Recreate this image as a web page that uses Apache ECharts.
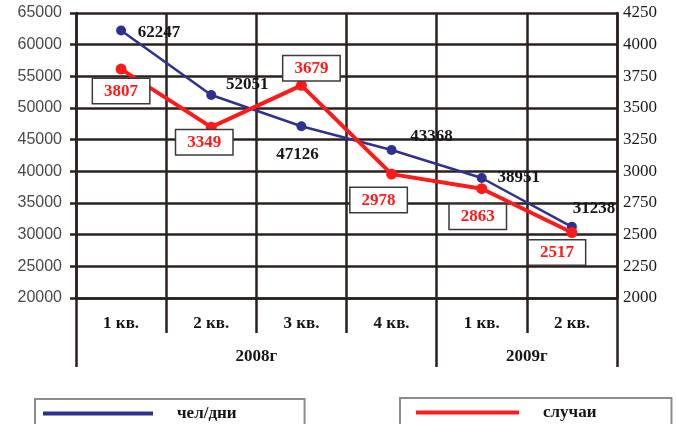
<!DOCTYPE html>
<html>
<head>
<meta charset="utf-8">
<script src="https://cdn.jsdelivr.net/npm/echarts@6/dist/echarts.min.js"></script>
<style>
  html, body { margin: 0; padding: 0; background: #ffffff; }
  #chart { width: 676px; height: 424px; }
</style>
</head>
<body>
<div id="chart"></div>
<script>
// Quarterly figures, 2008–2009
const quarters = ['1 кв.', '2 кв.', '3 кв.', '4 кв.', '1 кв.', '2 кв.'];
const years = ['2008г', '2009г'];
const quartersPerYear = [4, 2];
const personDays = [62247, 52051, 47126, 43368, 38951, 31238];   // чел/дни
const cases = [3807, 3349, 3679, 2978, 2863, 2517];               // случаи
const leftTicks = [20000, 25000, 30000, 35000, 40000, 45000, 50000, 55000, 60000, 65000];
const rightTicks = [2000, 2250, 2500, 2750, 3000, 3250, 3500, 3750, 4000, 4250];

// Label placement around each point (px)
const personDaysLabelShift = [[38, 2], [36, -10], [-4, 28], [40, -13], [37, 0], [22, -18]];
const casesLabelShift = [[0, 22], [-7, 15], [10, -17], [-13, 26], [-4, 28], [-15, 20]];

const GRID_COLOR = '#2b211e';
const BLUE = '#2f3190';
const RED = '#ff1a1a';
const SERIF = "'Liberation Serif', 'DejaVu Serif', serif";

// Year group boundaries and centres on a 0..N quarter scale
const yearBounds = [0];
quartersPerYear.forEach(n => yearBounds.push(yearBounds[yearBounds.length - 1] + n));
const yearCenters = quartersPerYear.map((n, i) => yearBounds[i] + n / 2);

const lineStyleAxis = { color: GRID_COLOR, width: 2.5 };
const plain = v => String(v);

const chart = echarts.init(document.getElementById('chart'), null, { renderer: 'canvas' });

chart.setOption({
  animation: false,
  backgroundColor: '#ffffff',
  grid: { left: 76, right: 59, top: 13, bottom: 126, containLabel: false },
  legend: [
    {
      data: ['чел/дни'],
      left: 35, top: 399,
      icon: 'rect', itemWidth: 110, itemHeight: 4,
      padding: [6, 68, 20, 8],
      borderColor: '#8c8c8c', borderWidth: 2,
      selectedMode: false,
      textStyle: { fontFamily: SERIF, fontWeight: 'bold', fontSize: 17, color: '#151515', padding: [0, 0, 0, 19] }
    },
    {
      data: ['случаи'],
      left: 400, top: 398,
      icon: 'rect', itemWidth: 103, itemHeight: 4,
      padding: [6, 75, 20, 16],
      borderColor: '#8c8c8c', borderWidth: 2,
      selectedMode: false,
      textStyle: { fontFamily: SERIF, fontWeight: 'bold', fontSize: 17, color: '#151515', padding: [0, 0, 0, 19] }
    }
  ],
  xAxis: [
    {
      type: 'category',
      data: quarters,
      boundaryGap: true,
      position: 'bottom',
      axisLine: { show: true, lineStyle: lineStyleAxis },
      axisTick: { show: true, interval: 0, length: 35, lineStyle: lineStyleAxis },
      splitLine: { show: true, interval: 0, lineStyle: lineStyleAxis },
      axisLabel: {
        interval: 0, margin: 17,
        fontFamily: SERIF, fontWeight: 'bold', fontSize: 17, color: '#151515'
      }
    },
    {
      type: 'value',
      position: 'bottom',
      offset: 35,
      min: yearBounds[0],
      max: yearBounds[yearBounds.length - 1],
      axisLine: { show: false },
      splitLine: { show: false },
      axisTick: { show: true, customValues: yearBounds, length: 34, lineStyle: lineStyleAxis },
      axisLabel: {
        customValues: yearCenters,
        margin: 15,
        formatter: v => years[yearCenters.indexOf(v)] || '',
        fontFamily: SERIF, fontWeight: 'bold', fontSize: 17, color: '#151515'
      }
    }
  ],
  yAxis: [
    {
      type: 'value',
      position: 'left',
      min: leftTicks[0],
      max: leftTicks[leftTicks.length - 1],
      interval: leftTicks[1] - leftTicks[0],
      axisLine: { show: true, lineStyle: lineStyleAxis },
      axisTick: { show: true, length: 6, lineStyle: lineStyleAxis },
      splitLine: { show: true, lineStyle: lineStyleAxis },
      axisLabel: {
        margin: 14,
        formatter: plain,
        fontFamily: "'Liberation Sans', Arial, sans-serif", fontSize: 16, color: '#4a4a4a'
      }
    },
    {
      type: 'value',
      position: 'right',
      min: rightTicks[0],
      max: rightTicks[rightTicks.length - 1],
      interval: rightTicks[1] - rightTicks[0],
      axisLine: { show: true, lineStyle: lineStyleAxis },
      axisTick: { show: false },
      splitLine: { show: false },
      axisLabel: {
        margin: 6,
        formatter: plain,
        fontFamily: SERIF, fontSize: 17, color: '#1a1a1a'
      }
    }
  ],
  series: [
    {
      name: 'чел/дни',
      type: 'line',
      xAxisIndex: 0,
      yAxisIndex: 0,
      symbol: 'circle',
      symbolSize: 10,
      color: BLUE,
      lineStyle: { color: BLUE, width: 2.5 },
      itemStyle: { color: BLUE },
      z: 3,
      data: personDays.map((v, i) => ({
        value: v,
        label: { offset: personDaysLabelShift[i] }
      })),
      label: {
        show: true,
        position: 'inside',
        fontFamily: SERIF, fontWeight: 'bold', fontSize: 17, color: '#151515'
      }
    },
    {
      name: 'случаи',
      type: 'line',
      xAxisIndex: 0,
      yAxisIndex: 1,
      symbol: 'circle',
      symbolSize: 11,
      color: RED,
      lineStyle: { color: RED, width: 4 },
      itemStyle: { color: RED },
      z: 4,
      data: cases.map((v, i) => ({
        value: v,
        label: { offset: casesLabelShift[i] }
      })),
      label: {
        show: true,
        position: 'inside',
        fontFamily: SERIF, fontWeight: 'bold', fontSize: 17, color: RED,
        backgroundColor: '#ffffff',
        borderColor: '#3a3a3a', borderWidth: 1.5,
        padding: [4, 11, 3, 11]
      }
    }
  ]
});
</script>
</body>
</html>
